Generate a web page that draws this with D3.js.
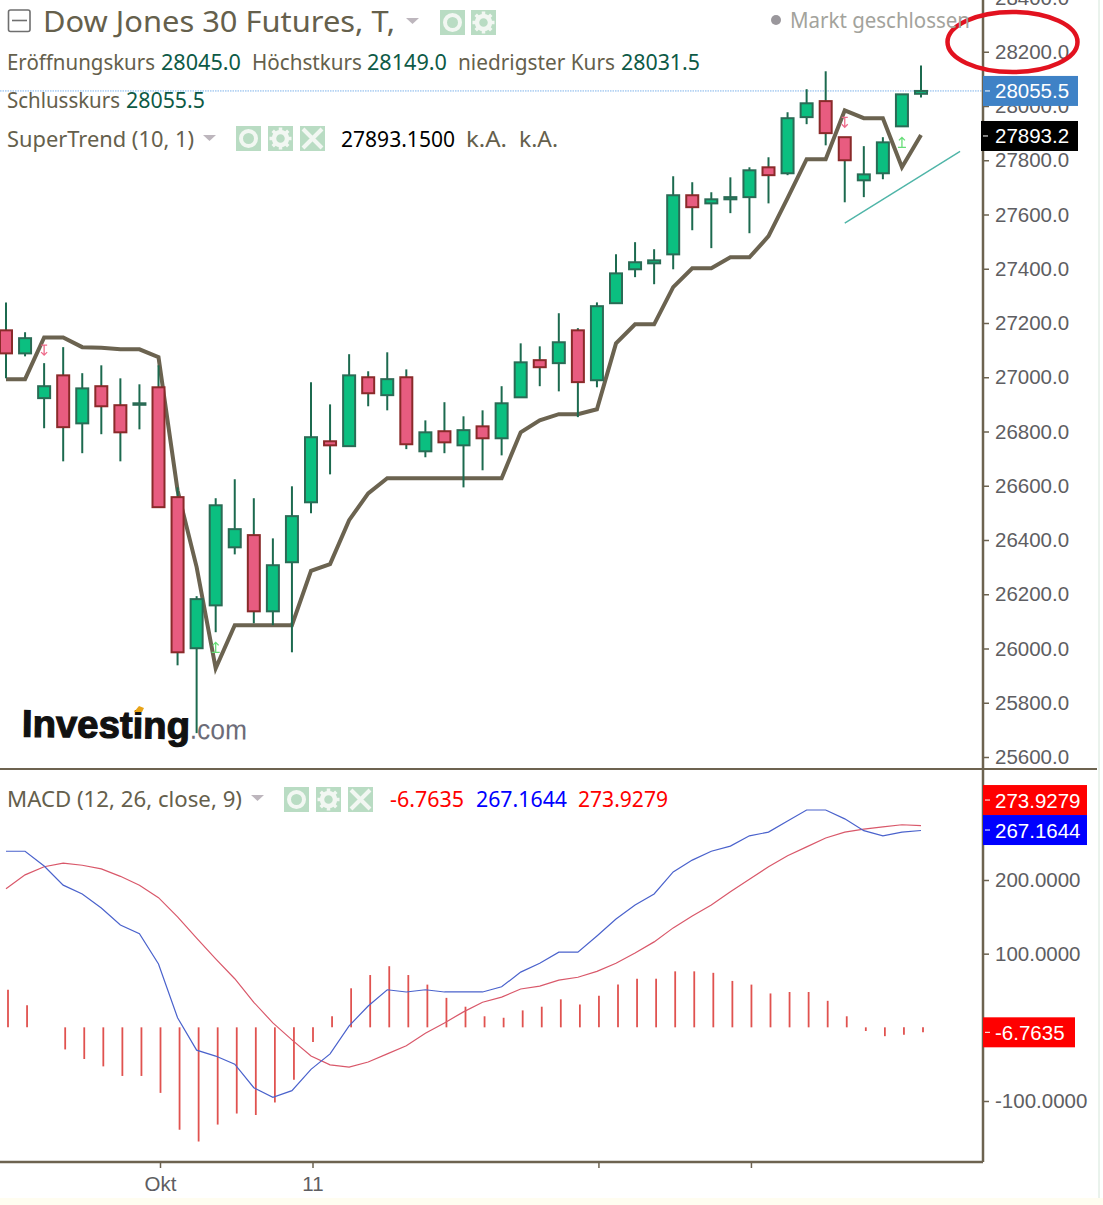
<!DOCTYPE html>
<html>
<head>
<meta charset="utf-8">
<title>Dow Jones 30 Futures</title>
<script src="https://cdn.jsdelivr.net/npm/d3@7"></script>
<style>
  html, body { margin: 0; padding: 0; background: #fff; }
  svg { display: block; }
  text { font-family: "Noto Sans", sans-serif; }
  .axis text { font-family: "Liberation Sans", sans-serif; font-size: 20.5px; fill: #5e5e62; }
  .axis path, .axis line { stroke: #6d6350; }
  .axis path { stroke-width: 2.5; }
  .axis line { stroke-width: 1.5; }
</style>
</head>
<body>
<script>
// daily candles
const opens = [27173, 27088, 26923, 27007, 26830, 26967, 26897, 26900, 26963, 26558, 26001, 26159, 26373, 26418, 26137, 26318, 26539, 26764, 26746, 27000, 26934, 27000, 26727, 26801, 26749, 26819, 26775, 26926, 27063, 27052, 27173, 26989, 27273, 27398, 27420, 27453, 27671, 27641, 27656, 27664, 27774, 27752, 27959, 28018, 27885, 27726, 27752, 27925, 28045]
const highs = [27276, 27166, 27052, 27111, 27015, 27044, 26996, 26974, 27044, 26594, 26193, 26554, 26624, 26554, 26406, 26598, 26982, 26900, 27085, 27022, 27092, 27029, 26841, 26908, 26856, 26878, 26967, 27125, 27114, 27236, 27181, 27276, 27453, 27498, 27472, 27741, 27719, 27682, 27737, 27774, 27811, 27977, 28062, 28128, 27885, 27852, 27885, 28043, 28149]
const lows = [26996, 27077, 26812, 26690, 26720, 26790, 26690, 26808, 26521, 25938, 25688, 26060, 26347, 26093, 26086, 25986, 26499, 26642, 26746, 26893, 26878, 26735, 26705, 26720, 26594, 26657, 26712, 26926, 26967, 26948, 26853, 26963, 27273, 27369, 27343, 27398, 27542, 27476, 27605, 27531, 27641, 27745, 27933, 27855, 27645, 27664, 27730, 27925, 28031.5]
const closes = [27088, 27144, 26967, 26816, 26959, 26893, 26797, 26904, 26521, 25986, 26182, 26528, 26440, 26137, 26307, 26488, 26779, 26749, 27007, 26941, 26993, 26753, 26797, 26760, 26805, 26775, 26904, 27055, 27037, 27129, 26982, 27262, 27383, 27424, 27431, 27671, 27627, 27656, 27664, 27763, 27745, 27955, 28010, 27900, 27800, 27748, 27866, 28043, 28055.5]

const superTrend = [26993, 26993, 27147, 27147, 27111, 27109, 27103, 27103, 27074, 26583, 26300, 25927, 26086, 26086, 26086, 26086, 26286, 26311, 26473, 26572, 26628, 26628, 26628, 26628, 26628, 26628, 26628, 26797, 26841, 26864, 26864, 26882, 27125, 27195, 27195, 27332, 27402, 27402, 27442, 27442, 27520, 27660, 27804, 27804, 27984, 27955, 27955, 27774, 27893.15]

const macdLine = [239, 239, 219, 193, 181, 162, 139, 127, 86, 13, -31, -39, -50, -82, -95, -86, -57, -36, 2, 29, 51, 48, 51, 48, 48, 48, 55, 75, 87, 102, 102, 124, 147, 166, 181, 211, 227, 239, 246, 260, 265, 280, 295, 295, 283, 267, 260, 265, 267.1644]
const signalLine = [188, 207, 218, 223, 220, 215, 205, 193, 176, 150, 121, 93, 66, 34, 6, -17, -39, -51, -54, -47, -36, -25, -8, 6, 21, 34, 41, 52, 56, 64, 68, 76, 87, 101, 116, 135, 151, 166, 184, 201, 218, 233, 245, 257, 265, 269, 272, 275, 273.9279]
const histogram = [51, 30, 0, -30, -43, -53, -66, -66, -89, -139, -155, -132, -117, -119, -102, -71, -20, 15, 53, 71, 83, 71, 58, 40, 28, 15, 13, 23, 28, 38, 31, 43, 58, 66, 66, 76, 76, 74, 63, 58, 46, 48, 48, 36, 15, -5, -12, -10, -6.7635]

const priceTicks = [25600, 25800, 26000, 26200, 26400, 26600, 26800, 27000, 27200, 27400, 27600, 27800, 28000, 28200, 28400]
const macdTicks = [-100, 100, 200]
const timeTicks = [8, 16, 31, 39]
const timeLabels = ['Okt', '11', '', '']

// where the markers of the indicator sit: [candle, price]
const sellSignals = [[2, 27100], [44, 27940]]
const buySignals = [[11, 26004], [47, 27866]]
// hand drawn bits on the screenshot
const trendLine = [[44, 27568], [50.05, 27833]]
const circledLabel = [52.8, 28236]

const width = 1103
const height = 1205
const axisX = 983
const paneBottom = 769
const macdBottom = 1162

const svg = d3.select('body').append('svg').attr('width', width).attr('height', height)
svg.append('rect').attr('width', width).attr('height', height).attr('fill', '#fff')
svg.append('rect').attr('y', 1198).attr('width', width).attr('height', 7).attr('fill', '#fffdf0')
svg.append('line').attr('x1', 1099).attr('x2', 1099).attr('y1', 0).attr('y2', 1198)
  .attr('stroke', '#d5e6da').attr('stroke-width', 1)

const x = d3.scaleLinear().domain([0, 48]).range([6, 921])
const y = d3.scaleLinear().domain([25600, 28400]).range([757, -2.5])
const yMacd = d3.scaleLinear().domain([-100, 200]).range([1101, 880])

// watermark
const logo = svg.append('g').attr('transform', 'rotate(0.8 130 725)')
logo.append('text').attr('x', 22).attr('y', 738).text('Investing')
  .attr('textLength', 168).attr('lengthAdjust', 'spacingAndGlyphs')
  .style('font-family', '"Liberation Sans"').style('font-weight', 700).style('font-size', '38px')
  .attr('fill', '#111').attr('stroke', '#111').attr('stroke-width', 1.2)
logo.append('text').attr('x', 190).attr('y', 738).text('.com')
  .attr('textLength', 57).attr('lengthAdjust', 'spacingAndGlyphs')
  .style('font-family', '"Liberation Sans"').style('font-size', '28px').attr('fill', '#6c6c78')
svg.append('path').attr('d', 'M134,712L139,706L144,708L142,712Z').attr('fill', '#e8a317')

// last price line
svg.append('line')
  .attr('x1', 0).attr('x2', axisX)
  .attr('y1', y(closes[48])).attr('y2', y(closes[48]))
  .attr('stroke', '#7db2ea').attr('stroke-width', 1).attr('stroke-dasharray', '1.5 1')

const stLine = d3.line().x((d, i) => x(i)).y(d => y(d))
svg.append('path').attr('d', stLine(superTrend))
  .attr('fill', 'none').attr('stroke', '#6b6350').attr('stroke-width', 4).attr('stroke-linejoin', 'miter')

const candles = svg.append('g').selectAll('g').data(opens).join('g')
candles.append('line')
  .attr('x1', (d, i) => x(i)).attr('x2', (d, i) => x(i))
  .attr('y1', (d, i) => y(highs[i])).attr('y2', (d, i) => y(lows[i]))
  .attr('stroke', '#1c6a4f').attr('stroke-width', 2)
candles.append('rect')
  .attr('x', (d, i) => x(i) - 6)
  .attr('width', 12)
  .attr('y', (d, i) => y(Math.max(opens[i], closes[i])))
  .attr('height', (d, i) => Math.max(1.5, Math.abs(y(opens[i]) - y(closes[i]))))
  .attr('fill', (d, i) => closes[i] >= opens[i] ? '#0bbf80' : '#e85c80')
  .attr('stroke', (d, i) => closes[i] >= opens[i] ? '#2a6b55' : '#8a2a2a')
  .attr('stroke-width', 2)

// supertrend flip markers
function signalMarks(data, color, shape) {
  svg.append('g').selectAll('path').data(data).join('path')
    .attr('transform', d => `translate(${x(d[0])},${y(d[1])})`)
    .attr('d', shape)
    .attr('fill', 'none').attr('stroke', color).attr('stroke-width', 1.3)
}
signalMarks(sellSignals, '#ee6a8a', 'M-3,-5H3M0,-5V5M-3,2L0,5L3,2')
signalMarks(buySignals, '#66dd77', 'M-4,5H4M0,5V-5M-3,-2L0,-5L3,-2')

svg.append('path').attr('d', d3.line().x(d => x(d[0])).y(d => y(d[1]))(trendLine))
  .attr('fill', 'none').attr('stroke', '#4fb5a8').attr('stroke-width', 1.4)

// macd pane
svg.append('g').selectAll('line').data(histogram).join('line')
  .attr('x1', (d, i) => x(i) + 2).attr('x2', (d, i) => x(i) + 2)
  .attr('y1', yMacd(0)).attr('y2', d => yMacd(d))
  .attr('stroke', '#e0524f').attr('stroke-width', 1.8)
const macdPath = d3.line().x((d, i) => x(i)).y(d => yMacd(d))
svg.append('path').attr('d', macdPath(signalLine))
  .attr('fill', 'none').attr('stroke', '#d9586a').attr('stroke-width', 1.2)
svg.append('path').attr('d', macdPath(macdLine))
  .attr('fill', 'none').attr('stroke', '#4a62cc').attr('stroke-width', 1.2)

// axes
svg.append('g').attr('class', 'axis').attr('transform', `translate(${axisX},0)`)
  .call(d3.axisRight(y).tickValues(priceTicks).tickSize(6).tickPadding(6).tickFormat(d3.format('.1f')))
  .call(g => g.select('.domain').attr('d', `M0,0V${paneBottom}`))
svg.append('g').attr('class', 'axis').attr('transform', `translate(${axisX},0)`)
  .call(d3.axisRight(yMacd).tickValues(macdTicks).tickSize(6).tickPadding(6)
    .tickFormat(d => d3.format('.4f')(d).replace('−', '-')))
  .call(g => g.select('.domain').attr('d', `M0,${paneBottom}V${macdBottom}`))
svg.append('g').attr('class', 'axis').attr('transform', `translate(0,${macdBottom})`)
  .call(d3.axisBottom(x).tickValues(timeTicks).tickSize(6).tickPadding(8).offset(2)
    .tickFormat((d, i) => timeLabels[i]))
  .call(g => g.select('.domain').attr('d', `M0,0H${axisX}`))

svg.append('line').attr('x1', 0).attr('x2', 1097).attr('y1', paneBottom).attr('y2', paneBottom)
  .attr('stroke', '#6d6350').attr('stroke-width', 2)

// value boxes on the scale, shift moves a box off its neighbour
function priceTag(scale, value, text, fill, left, boxWidth, shift = 0) {
  const cy = scale(value) + shift
  svg.append('rect').attr('x', left).attr('y', cy - 15).attr('width', boxWidth).attr('height', 30).attr('fill', fill)
  svg.append('line').attr('x1', left + 2).attr('x2', left + 7).attr('y1', cy).attr('y2', cy).attr('stroke', '#fff').attr('stroke-width', 1)
  svg.append('text').attr('x', 995).attr('y', cy + 7.5).text(text)
    .style('font-family', '"Liberation Sans"').style('font-size', '20.5px').attr('fill', '#fff')
}
priceTag(y, closes[48], '28055.5', '#3f82c6', 983, 95)
priceTag(y, superTrend[48], '27893.2', '#000', 981, 97, 1)
priceTag(yMacd, signalLine[48], '273.9279', '#ff0000', 983, 104, -25.5)
priceTag(yMacd, macdLine[48], '267.1644', '#0000ff', 983, 104, -0.5)
priceTag(yMacd, histogram[48], '-6.7635', '#ff0000', 983, 92)

// red circle from the screenshot
svg.append('ellipse').attr('cx', x(circledLabel[0])).attr('cy', y(circledLabel[1]))
  .attr('rx', 65).attr('ry', 30)
  .attr('fill', 'none').attr('stroke', '#e2121f').attr('stroke-width', 4.5)

// legend texts, fitted to the widths of the original font
function label(text, px, py, color, fitWidth, size = 21.6) {
  const t = svg.append('text').attr('x', px).attr('y', py).text(text)
    .style('font-size', `${size}px`).attr('fill', color)
  if (fitWidth) t.attr('textLength', fitWidth).attr('lengthAdjust', 'spacingAndGlyphs')
}
const legendGrey = '#65604c'
const legendGreen = '#0d5a46'
label('Dow Jones 30 Futures, T,', 43, 32, legendGrey, 352, 29.5)
label('Eröffnungskurs', 7, 70, legendGrey, 148)
label('28045.0', 161, 70, legendGreen, 80)
label('Höchstkurs', 252, 70, legendGrey, 110)
label('28149.0', 367, 70, legendGreen, 80)
label('niedrigster Kurs', 458, 70, legendGrey, 157)
label('28031.5', 621, 70, legendGreen, 79)
label('Schlusskurs', 7, 108, legendGrey, 113)
label('28055.5', 126, 108, legendGreen, 79)
label('SuperTrend (10, 1)', 7, 147, legendGrey, 187)
label('27893.1500', 341, 147, '#000', 114)
label('k.A.', 466, 147, legendGrey, 41)
label('k.A.', 519, 147, legendGrey, 39)
label('MACD (12, 26, close, 9)', 7, 807, legendGrey, 235)
label('-6.7635', 390, 807, '#ff0000', 74)
label('267.1644', 476, 807, '#0000ff', 91)
label('273.9279', 578, 807, '#ff0000', 90)
label('Markt geschlossen', 790, 28, '#a3a39c', 180)
svg.append('circle').attr('cx', 776).attr('cy', 20).attr('r', 5).attr('fill', '#9a979c')

// collapse box of the main legend
svg.append('rect').attr('x', 8.5).attr('y', 10).attr('width', 21.5).attr('height', 21.5).attr('rx', 2)
  .attr('fill', 'none').attr('stroke', '#6f6f6f').attr('stroke-width', 1.6)
svg.append('line').attr('x1', 12).attr('x2', 27).attr('y1', 20.5).attr('y2', 20.5)
  .attr('stroke', '#6f6f6f').attr('stroke-width', 1.6)

function dropArrow(px, py) {
  svg.append('path').attr('transform', `translate(${px},${py})`).attr('d', 'M0,0H13L6.5,6Z').attr('fill', '#bdb6bd')
}
function icon(px, py, kind) {
  const g = svg.append('g').attr('transform', `translate(${px},${py})`)
  g.append('rect').attr('width', 25).attr('height', 25).attr('fill', '#b9dcc3')
  if (kind === 'eye') {
    g.append('circle').attr('cx', 12.5).attr('cy', 12.5).attr('r', 7.5)
      .attr('fill', 'none').attr('stroke', '#f2f7f2').attr('stroke-width', 4)
  } else if (kind === 'gear') {
    g.append('circle').attr('cx', 12.5).attr('cy', 12.5).attr('r', 6.5)
      .attr('fill', 'none').attr('stroke', '#f2f7f2').attr('stroke-width', 4.5)
    g.selectAll('line').data(d3.range(8)).join('line')
      .attr('x1', 12.5).attr('y1', 1.5).attr('x2', 12.5).attr('y2', 5)
      .attr('transform', d => `rotate(${d * 45} 12.5 12.5)`)
      .attr('stroke', '#f2f7f2').attr('stroke-width', 3.5)
  } else {
    g.append('path').attr('d', 'M3,3L22,22M22,3L3,22').attr('stroke', '#f2f7f2').attr('stroke-width', 4)
  }
}
dropArrow(406, 18)
icon(440, 10, 'eye')
icon(471, 10, 'gear')
dropArrow(203, 135)
icon(236, 126, 'eye')
icon(268, 126, 'gear')
icon(300, 126, 'close')
dropArrow(251, 795)
icon(284, 787, 'eye')
icon(316, 787, 'gear')
icon(348, 787, 'close')
</script>
</body>
</html>
